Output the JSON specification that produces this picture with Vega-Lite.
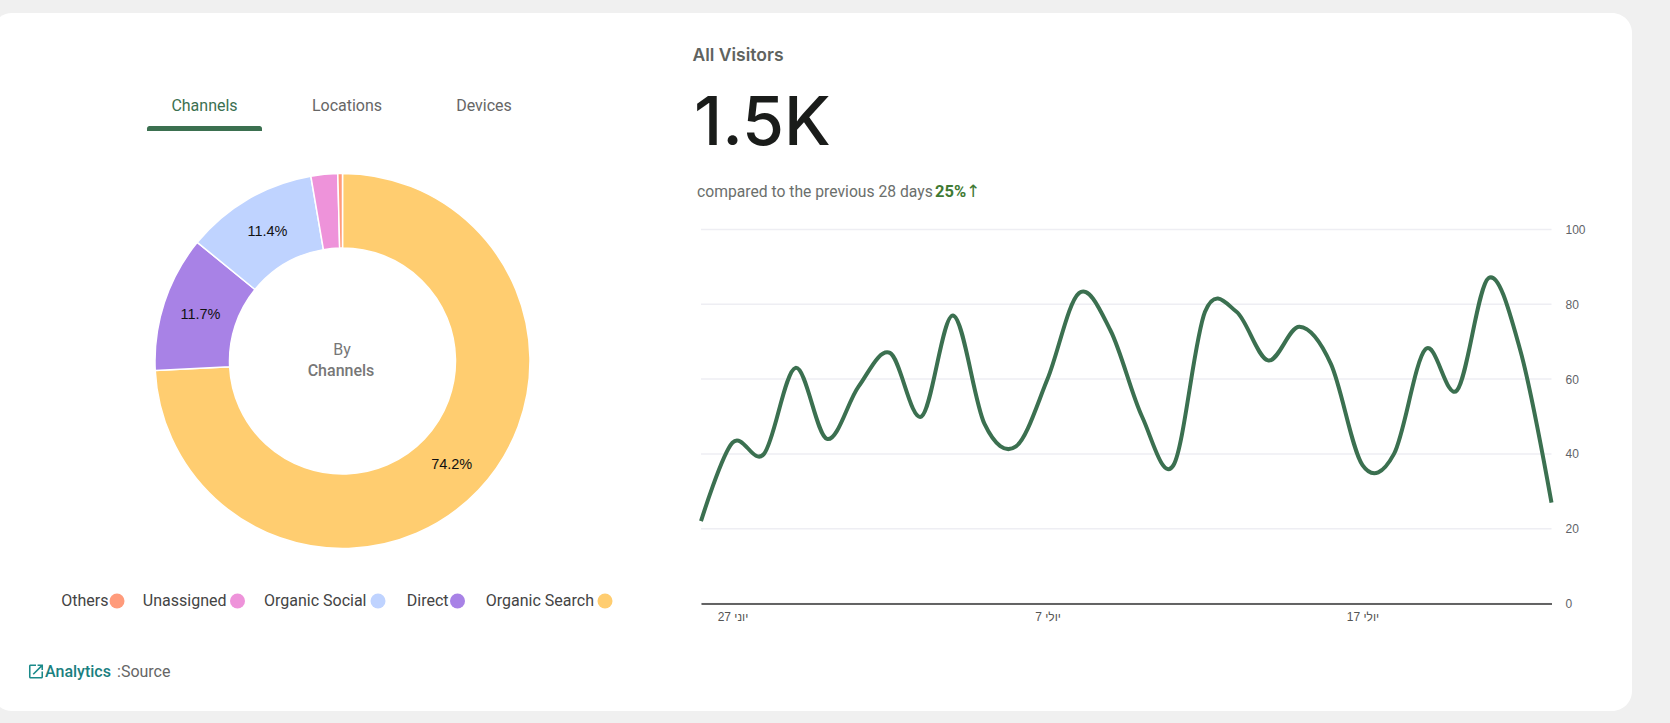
{
"$schema":"https://vega.github.io/schema/vega-lite/v6.json",
"width":1670,"height":723,"padding":0,"autosize":"none",
"background":"#f0f0f0",
"config":{"view":{"stroke":null},"text":{"font":"Roboto","baseline":"middle"}},
"datasets":{
"channels":[
{"channel":"Organic Search","share":74.2,"label":"74.2%"},
{"channel":"Direct","share":11.7,"label":"11.7%"},
{"channel":"Organic Social","share":11.4,"label":"11.4%"},
{"channel":"Unassigned","share":2.3,"label":""},
{"channel":"Others","share":0.4,"label":""}
],
"visits":[
{"date":"2024-06-26T00:00:00","users":22},{"date":"2024-06-27T00:00:00","users":43},{"date":"2024-06-28T00:00:00","users":40},{"date":"2024-06-29T00:00:00","users":63},
{"date":"2024-06-30T00:00:00","users":44},{"date":"2024-07-01T00:00:00","users":58},{"date":"2024-07-02T00:00:00","users":67},{"date":"2024-07-03T00:00:00","users":50},
{"date":"2024-07-04T00:00:00","users":77},{"date":"2024-07-05T00:00:00","users":48},{"date":"2024-07-06T00:00:00","users":42},{"date":"2024-07-07T00:00:00","users":60},
{"date":"2024-07-08T00:00:00","users":83},{"date":"2024-07-09T00:00:00","users":73},{"date":"2024-07-10T00:00:00","users":50},{"date":"2024-07-11T00:00:00","users":37},
{"date":"2024-07-12T00:00:00","users":78},{"date":"2024-07-13T00:00:00","users":78},{"date":"2024-07-14T00:00:00","users":65},{"date":"2024-07-15T00:00:00","users":74},
{"date":"2024-07-16T00:00:00","users":64},{"date":"2024-07-17T00:00:00","users":37},{"date":"2024-07-18T00:00:00","users":40},{"date":"2024-07-19T00:00:00","users":68},
{"date":"2024-07-20T00:00:00","users":57},{"date":"2024-07-21T00:00:00","users":87},{"date":"2024-07-22T00:00:00","users":68},{"date":"2024-07-23T00:00:00","users":27}
]
},
"data":{"name":"channels"},
"resolve":{"scale":{"x":"independent","y":"independent","theta":"independent"}},
"layer":[
{"data":{"values":[{"card":"main"}]},
 "mark":{"type":"rect","fill":"#ffffff","cornerRadius":20},
 "encoding":{"x":{"value":-8},"x2":{"value":1632},"y":{"value":13},"y2":{"value":711}}},
{"data":{"values":[{"tab":"active"}]},
 "mark":{"type":"rect","fill":"#3b7050","cornerRadiusTopLeft":4,"cornerRadiusTopRight":4},
 "encoding":{"x":{"value":147},"x2":{"value":262},"y":{"value":126},"y2":{"value":131}}},
{"data":{"values":[{"tab":"Channels"}]},
 "mark":{"type":"text","fontSize":16,"fill":"#3b7050","align":"center"},
 "encoding":{"text":{"field":"tab"},"x":{"value":204.5},"y":{"value":106}}},
{"data":{"values":[{"tab":"Locations"}]},
 "mark":{"type":"text","fontSize":16,"fill":"#666666","align":"center"},
 "encoding":{"text":{"field":"tab"},"x":{"value":347},"y":{"value":106}}},
{"data":{"values":[{"tab":"Devices"}]},
 "mark":{"type":"text","fontSize":16,"fill":"#666666","align":"center"},
 "encoding":{"text":{"field":"tab"},"x":{"value":484},"y":{"value":106}}},
{"mark":{"type":"arc","radius":187.5,"radius2":113,"stroke":"#ffffff","strokeWidth":1.5},
 "encoding":{
  "theta":{"field":"share","type":"quantitative","stack":true},
  "order":{"field":"share","sort":"descending"},
  "color":{"field":"channel","type":"nominal","legend":null,
   "scale":{"domain":["Organic Search","Direct","Organic Social","Unassigned","Others"],"range":["#ffcd70","#a882e6","#bfd3ff","#ee93da","#ff9b7b"]}},
  "x":{"value":342.5},"y":{"value":361}}},
{"mark":{"type":"text","radius":150,"font":"Liberation Sans","fontSize":14.5,"fill":"#111111","align":"center"},
 "encoding":{
  "theta":{"field":"share","type":"quantitative","stack":true},
  "order":{"field":"share","sort":"descending"},
  "text":{"field":"label"},
  "x":{"value":343},"y":{"value":361.5}}},
{"data":{"values":[{"t":"By"}]},
 "mark":{"type":"text","fontSize":16,"fill":"#777777","align":"center"},
 "encoding":{"text":{"field":"t"},"x":{"value":342},"y":{"value":350}}},
{"data":{"values":[{"t":"Channels"}]},
 "mark":{"type":"text","fontSize":16,"fontWeight":500,"fill":"#777777","align":"center"},
 "encoding":{"text":{"field":"t"},"x":{"value":341},"y":{"value":371}}},
{"mark":{"type":"text","fontSize":16,"fill":"#444444","align":"right",
  "x":{"expr":"({'Others':108.5,'Unassigned':226.5,'Organic Social':366.5,'Direct':448.5,'Organic Search':594})[datum.channel]"},"y":601},
 "encoding":{"text":{"field":"channel"}}},
{"mark":{"type":"point","filled":true,"opacity":1,"size":225,
  "x":{"expr":"({'Others':117,'Unassigned':237.5,'Organic Social':378,'Direct':457.5,'Organic Search':605})[datum.channel]"},"y":601},
 "encoding":{"color":{"field":"channel","type":"nominal","legend":null}}},
{"data":{"values":[{"icon":"open"}]},
 "mark":{"type":"point","filled":true,"opacity":1,"fill":"#1a8a8a","size":350,
  "shape":"M.583 .583H-.583V-.583h.583V-.75H-.583c-.0925 0-.1667 .075-.1667 .1667v1.1667c0 .0917 .0742 .1667 .1667 .1667h1.1667c.0917 0 .1667-.075 .1667-.1667v-.5833h-.1667v.5833zM.1667 -.75v.1667h.2992l-.8192 .8192 .1175 .1175L.5833 -.4658V-.1667h.1667V-.75h-.5833z"},
 "encoding":{"x":{"value":36},"y":{"value":671.5}}},
{"data":{"values":[{"t":"Analytics"}]},
 "mark":{"type":"text","fontSize":16,"fontWeight":500,"fill":"#1a8080","align":"left"},
 "encoding":{"text":{"field":"t"},"x":{"value":45},"y":{"value":671.5}}},
{"data":{"values":[{"t":":Source"}]},
 "mark":{"type":"text","fontSize":16,"fill":"#666666","align":"left"},
 "encoding":{"text":{"field":"t"},"x":{"value":117},"y":{"value":671.5}}},
{"data":{"values":[{"t":"All Visitors"}]},
 "mark":{"type":"text","font":"Inter","fontSize":17.5,"fontWeight":600,"fill":"#5f6360","align":"left"},
 "encoding":{"text":{"field":"t"},"x":{"value":692.5},"y":{"value":56}}},
{"data":{"values":[{"t":"1.5K"}]},
 "mark":{"type":"text","font":"Inter","fontSize":68,"fontWeight":500,"fill":"#1a1c1a","align":"left"},
 "encoding":{"text":{"field":"t"},"x":{"value":694},"y":{"value":125}}},
{"data":{"values":[{"t":"compared to the previous 28 days"}]},
 "mark":{"type":"text","fontSize":15.7,"fill":"#6b6f6c","align":"left"},
 "encoding":{"text":{"field":"t"},"x":{"value":697},"y":{"value":192}}},
{"data":{"values":[{"t":"25%"}]},
 "mark":{"type":"text","fontSize":16.5,"fontWeight":700,"fill":"#3f7a33","align":"left"},
 "encoding":{"text":{"field":"t"},"x":{"value":935},"y":{"value":192}}},
{"data":{"values":[{"t":"↑"}]},
 "mark":{"type":"text","font":"DejaVu Sans","fontSize":17,"fill":"#3f7a33","align":"center"},
 "encoding":{"text":{"field":"t"},"x":{"value":973},"y":{"value":192}}},
{"data":{"values":[{"level":0},{"level":20},{"level":40},{"level":60},{"level":80},{"level":100}]},
 "mark":{"type":"rule","stroke":"#eeeef3","strokeWidth":1.5},
 "encoding":{
  "x":{"datum":{"year":2024,"month":"jun","date":26},"type":"temporal","scale":{"domain":[{"year":2024,"month":"jun","date":26},{"year":2024,"month":"jul","date":23}],"range":[701,1551.5]},"axis":null},
  "x2":{"datum":{"year":2024,"month":"jul","date":23}},
  "y":{"field":"level","type":"quantitative","scale":{"domain":[0,100],"range":[603.5,229.5]},"axis":null}}},
{"data":{"name":"visits"},
 "mark":{"type":"line","stroke":"#3b7050","strokeWidth":4,"interpolate":"cardinal","tension":0},
 "encoding":{
  "x":{"field":"date","type":"temporal","scale":{"domain":["2024-06-26T00:00:00","2024-07-23T00:00:00"],"range":[701,1551.5]},
   "axis":{"orient":"bottom","offset":-119.5,"title":null,"grid":false,"ticks":false,"zindex":1,"domainColor":"#333333","domainWidth":1.5,
    "labelFont":"Liberation Sans","labelFontSize":12,"labelColor":"#555555","labelPadding":8,
    "values":[{"year":2024,"month":"jun","date":27},{"year":2024,"month":"jul","date":7},{"year":2024,"month":"jul","date":17}],
    "labelExpr":"timeFormat(datum.value,'%-d')+' '+(month(datum.value)==5?'יוני':'יולי')"}},
  "y":{"field":"users","type":"quantitative","scale":{"domain":[0,100],"range":[603.5,229.5]},
   "axis":{"orient":"right","offset":-118,"title":null,"grid":false,"ticks":false,"domain":false,"zindex":1,
    "values":[0,20,40,60,80,100],"labelFont":"Liberation Sans","labelFontSize":12,"labelColor":"#5f6368","labelPadding":13}}}}
]
}
